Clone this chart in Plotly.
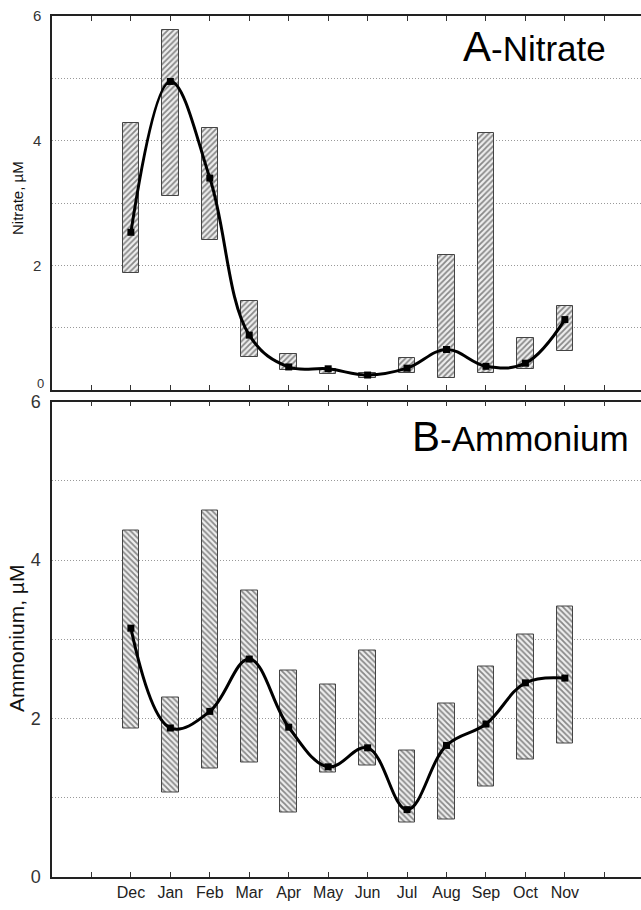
import plotly.graph_objects as go

months = ["Dec", "Jan", "Feb", "Mar", "Apr", "May", "Jun", "Jul", "Aug", "Sep", "Oct", "Nov"]
xpos = list(range(len(months)))

nitrate_mean = [2.53, 4.95, 3.40, 0.88, 0.37, 0.34, 0.24, 0.35, 0.65, 0.38, 0.43, 1.13]
nitrate_low = [1.88, 3.11, 2.40, 0.53, 0.32, 0.25, 0.20, 0.27, 0.19, 0.27, 0.34, 0.62]
nitrate_high = [4.28, 5.78, 4.20, 1.42, 0.57, 0.33, 0.28, 0.51, 2.16, 4.12, 0.83, 1.35]

ammonium_mean = [3.14, 1.88, 2.09, 2.75, 1.89, 1.39, 1.63, 0.85, 1.66, 1.93, 2.45, 2.51]
ammonium_low = [1.88, 1.07, 1.37, 1.44, 0.81, 1.32, 1.41, 0.69, 0.72, 1.14, 1.48, 1.69]
ammonium_high = [4.37, 2.26, 4.62, 3.62, 2.60, 2.43, 2.86, 1.59, 2.19, 2.66, 3.06, 3.41]

W, H = 641, 910
ML, MR, MT, MB = 52, 0, 16, 33
PH = H - MT - MB


def py(px):
    return 1 - (px - MT) / PH


def pxx(px):
    return (px - ML) / (W - ML - MR)


fig = go.Figure()

panels = [
    (nitrate_low, nitrate_high, nitrate_mean, "x", "y", "/"),
    (ammonium_low, ammonium_high, ammonium_mean, "x2", "y2", "\\"),
]
for low, high, mean, xa, ya, shp in panels:
    fig.add_trace(go.Bar(
        x=xpos, base=low, y=[h - l for h, l in zip(high, low)],
        width=0.42, xaxis=xa, yaxis=ya,
        marker=dict(color="#eeeeee", line=dict(color="#444", width=1),
                    pattern=dict(shape=shp, fgcolor="#222", bgcolor="#eeeeee",
                                 size=4, solidity=0.45)),
        showlegend=False,
    ))
    fig.add_trace(go.Scatter(
        x=xpos, y=mean, mode="lines+markers", xaxis=xa, yaxis=ya,
        line=dict(color="black", width=3, shape="spline", smoothing=1.1),
        marker=dict(symbol="square", size=7, color="black"),
        showlegend=False,
    ))

xt = list(range(-1, 13))
common_x = dict(range=[-2, 12.93], tickvals=xt, ticks="inside", ticklen=5,
                tickwidth=1, tickcolor="#333", showline=True, linecolor="#222",
                linewidth=1.5, mirror="ticks", showgrid=False, zeroline=False)
common_y = dict(range=[0, 6], tickvals=[0, 1, 2, 3, 4, 5, 6], ticks="",
                showline=True, linecolor="#222", linewidth=1.5,
                showgrid=True, gridcolor="#999", griddash="1px,2px", gridwidth=1,
                zeroline=False, ticklabelstandoff=6)

top_bottom = 390
bot_top = 401.5

fig.update_layout(
    width=W, height=H,
    margin=dict(l=ML, r=MR, t=MT, b=MB),
    paper_bgcolor="white", plot_bgcolor="white",
    font=dict(family="Liberation Sans, Arial, sans-serif", color="#222"),
    bargap=0,
    xaxis=dict(common_x, domain=[0, 1], anchor="y", showticklabels=False),
    yaxis=dict(common_y, domain=[py(top_bottom), 1], anchor="x",
               ticktext=["", "", "2", "", "4", "", "6"],
               tickfont=dict(size=15, color="#333")),
    xaxis2=dict(common_x, domain=[0, 1], anchor="y2",
                ticktext=[""] + months + [""], tickfont=dict(size=16, color="#222")),
    yaxis2=dict(common_y, domain=[0, py(bot_top)], anchor="x2",
                ticktext=["0", "", "2", "", "4", "", "6"],
                tickfont=dict(size=18, color="#333")),
    annotations=[
        dict(text="<span style='font-size:42px'>A</span>-Nitrate", xref="paper", yref="paper",
             x=pxx(461), y=py(72), xanchor="left", yanchor="bottom", showarrow=False,
             font=dict(size=35, color="black")),
        dict(text="<span style='font-size:42px'>B</span>-Ammonium", xref="paper", yref="paper",
             x=pxx(410), y=py(462), xanchor="left", yanchor="bottom", showarrow=False,
             font=dict(size=35, color="black")),
        dict(text="Nitrate, µM", xref="paper", yref="paper", x=pxx(17), y=py(198),
             xanchor="center", yanchor="middle", textangle=-90, showarrow=False,
             font=dict(size=15, color="#111")),
        dict(text="Ammonium, µM", xref="paper", yref="paper", x=pxx(16), y=py(639),
             xanchor="center", yanchor="middle", textangle=-90, showarrow=False,
             font=dict(size=21, color="#111")),
        dict(text="0", xref="paper", yref="paper", x=pxx(46), y=py(383.5),
             xanchor="right", yanchor="middle", showarrow=False,
             font=dict(size=13, color="#333")),
    ],
)

fig.write_html("out.html")
